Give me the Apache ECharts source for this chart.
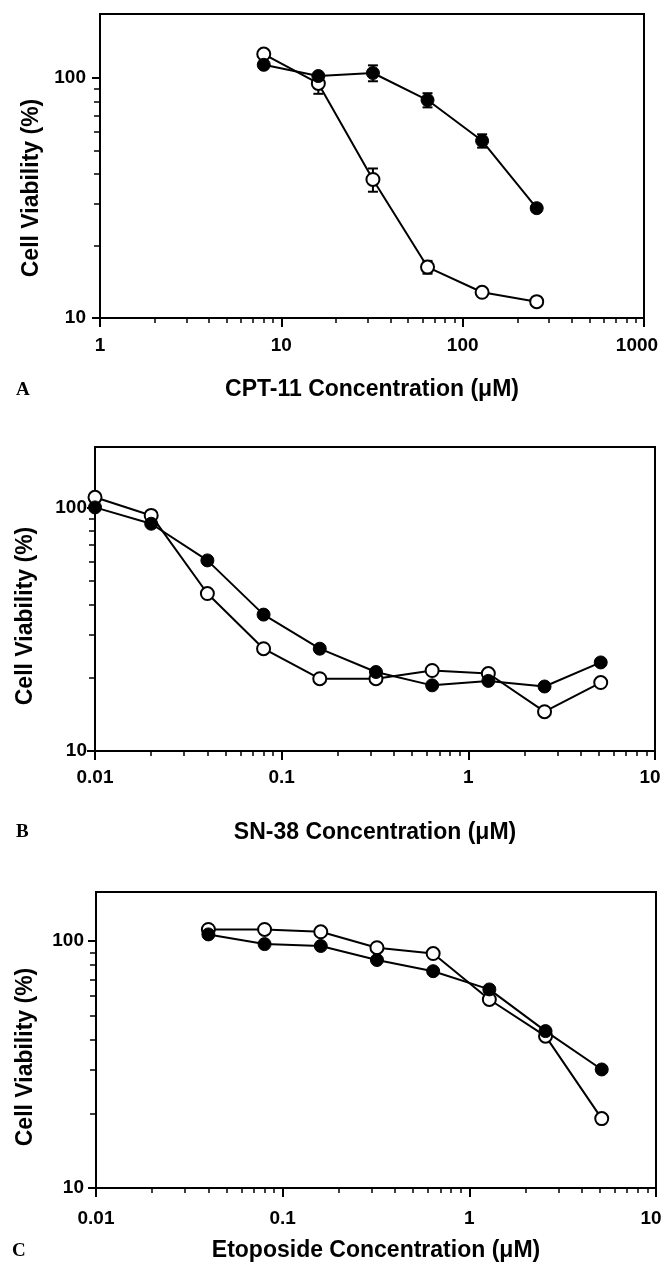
<!DOCTYPE html>
<html>
<head>
<meta charset="utf-8" />
<script src="https://cdn.jsdelivr.net/npm/echarts@6/dist/echarts.min.js"></script>
<style>
  html, body { margin: 0; padding: 0; background: #fff; }
  #chart { width: 663px; height: 1267px; }
</style>
</head>
<body>
<div id="chart"></div>
<script>
// panel A: CPT-11
var cptConc = [8, 16, 32, 64, 128, 256];
var cptOpen = [126, 95, 37.8, 16.3, 12.8, 11.7];
var cptOpenErr = [0, 9, 4.2, 1, 0.4, 0.4];
var cptClosed = [113.6, 102, 105, 81, 54.8, 28.7];
var cptClosedErr = [0, 3, 8, 5.5, 3.5, 1];

// panel B: SN-38
var snConc = [0.01, 0.02, 0.04, 0.08, 0.16, 0.32, 0.64, 1.28, 2.56, 5.12];
var snOpen = [110, 92.7, 44.3, 26.3, 19.8, 19.8, 21.4, 20.8, 14.5, 19.1];
var snClosed = [100, 85.7, 60.6, 36.3, 26.3, 21.1, 18.6, 19.4, 18.4, 23.1];

// panel C: etoposide
var etoConc = [0.04, 0.08, 0.16, 0.32, 0.64, 1.28, 2.56, 5.12];
var etoOpen = [111.4, 111.4, 109, 94, 89, 58, 41.2, 19.1];
var etoClosed = [106.4, 97.2, 95.5, 83.8, 75.5, 63.7, 43.2, 30.2];

// ticks
var cptXTicks = [1, 10, 100, 1000];
var snXTicks = [0.01, 0.1, 1, 10];
var yTicks = [10, 100];
var minorSteps = [2, 3, 4, 5, 6, 7, 8, 9];

function minorTicks(decades, lo, hi) {
    var out = [];
    decades.forEach(function (d) {
        minorSteps.forEach(function (m) {
            var v = +(d * m).toPrecision(6);
            if (v > lo && v < hi) out.push(v);
        });
    });
    return out;
}
function pairs(xs, ys) {
    return xs.map(function (x, i) { return [x, ys[i]]; });
}
function errData(xs, ys, es) {
    return xs.map(function (x, i) { return [x, ys[i] - es[i], ys[i] + es[i]]; });
}

var labelFont = {fontFamily: 'Liberation Sans, Arial, sans-serif', fontWeight: 'bold', fontSize: 19, color: '#000'};
var nameFont = {fontFamily: 'Liberation Sans, Arial, sans-serif', fontWeight: 'bold', fontSize: 23, color: '#000'};

var panels = [
    {top: 14, left: 100, width: 544, height: 304, xMin: 1, xMax: 1000, yMax: 185, xTicks: cptXTicks, lastShift: 14,
     xName: 'CPT-11 Concentration (\u03bcM)', xGap: 60, yGap: 56, yShift: 22, yMargin: 14, xMargin: 18},
    {top: 447, left: 95, width: 560, height: 304, xMin: 0.01, xMax: 10, yMax: 177, xTicks: snXTicks, lastShift: 10,
     xName: 'SN-38 Concentration (\u03bcM)', xGap: 70, yGap: 58, yShift: 17, yMargin: 8, xMargin: 17},
    {top: 892, left: 96, width: 560, height: 296, xMin: 0.01, xMax: 10, yMax: 158, xTicks: snXTicks, lastShift: 10,
     xName: 'Etoposide Concentration (\u03bcM)', xGap: 51, yGap: 59, yShift: 17, yMargin: 12, xMargin: 21}
];

function plainLabel(v) { return String(v); }

var grid = [], xAxis = [], yAxis = [];
panels.forEach(function (p, i) {
    grid.push({left: p.left, top: p.top, width: p.width, height: p.height, outerBoundsMode: 'none',
        show: true, borderColor: '#000', borderWidth: 2, backgroundColor: 'transparent'});
    // main axes: decade ticks + labels
    xAxis.push({type: 'log', gridIndex: i, position: 'bottom', min: p.xMin, max: p.xMax,
        name: p.xName, nameLocation: 'middle', nameGap: p.xGap, nameTextStyle: nameFont,
        axisLine: {lineStyle: {color: '#000', width: 2}},
        axisTick: {customValues: p.xTicks, length: 9, lineStyle: {color: '#000', width: 2}},
        axisLabel: Object.assign({customValues: p.xTicks, margin: p.xMargin,
            // last label sits a little inside the frame, as in the print
            formatter: function (v) { return v === p.xMax ? '{m|' + v + '}' : String(v); },
            rich: {m: Object.assign({padding: [0, p.lastShift, 0, 0]}, labelFont)}}, labelFont),
        splitLine: {show: false}});
    yAxis.push({type: 'log', gridIndex: i, position: 'left', min: 10, max: p.yMax,
        name: 'Cell Viability (%)', nameLocation: 'middle', nameGap: p.yGap,
        nameTextStyle: Object.assign({padding: [0, p.yShift * 2, 0, 0]}, nameFont),
        axisLine: {lineStyle: {color: '#000', width: 2}},
        axisTick: {customValues: yTicks, length: 8, lineStyle: {color: '#000', width: 2}},
        axisLabel: Object.assign({customValues: yTicks, margin: p.yMargin, formatter: plainLabel}, labelFont),
        splitLine: {show: false}});
    // minor ticks at 2..9 of each decade
    xAxis.push({type: 'log', gridIndex: i, position: 'bottom', min: p.xMin, max: p.xMax,
        axisLine: {show: false}, axisLabel: {show: false}, splitLine: {show: false},
        axisTick: {customValues: minorTicks(p.xTicks, p.xMin, p.xMax), length: 5, lineStyle: {color: '#000', width: 1.5}}});
    yAxis.push({type: 'log', gridIndex: i, position: 'left', min: 10, max: p.yMax,
        axisLine: {show: false}, axisLabel: {show: false}, splitLine: {show: false},
        axisTick: {customValues: minorTicks(yTicks, 10, p.yMax), length: 6, lineStyle: {color: '#000', width: 1.5}}});
});

function errRender(params, api) {
    var x = api.value(0);
    var lo = api.coord([x, api.value(1)]);
    var hi = api.coord([x, api.value(2)]);
    var w = 5;
    var st = {stroke: '#000', lineWidth: 2};
    return {type: 'group', children: [
        {type: 'line', shape: {x1: hi[0], y1: hi[1], x2: lo[0], y2: lo[1]}, style: st},
        {type: 'line', shape: {x1: hi[0] - w, y1: hi[1], x2: hi[0] + w, y2: hi[1]}, style: st},
        {type: 'line', shape: {x1: lo[0] - w, y1: lo[1], x2: lo[0] + w, y2: lo[1]}, style: st}
    ]};
}

function openLine(i, data) {
    return {type: 'line', xAxisIndex: i * 2, yAxisIndex: i * 2, data: data,
        symbol: 'circle', symbolSize: 13,
        lineStyle: {color: '#000', width: 2},
        itemStyle: {color: '#fff', borderColor: '#000', borderWidth: 2}};
}
function closedLine(i, data) {
    return {type: 'line', xAxisIndex: i * 2, yAxisIndex: i * 2, data: data,
        symbol: 'circle', symbolSize: 13,
        lineStyle: {color: '#000', width: 2},
        itemStyle: {color: '#000', borderColor: '#000', borderWidth: 1}};
}

var series = [
    {type: 'custom', xAxisIndex: 0, yAxisIndex: 0, renderItem: errRender,
     encode: {x: 0, y: [1, 2]}, data: errData(cptConc, cptOpen, cptOpenErr)},
    {type: 'custom', xAxisIndex: 0, yAxisIndex: 0, renderItem: errRender,
     encode: {x: 0, y: [1, 2]}, data: errData(cptConc, cptClosed, cptClosedErr)},
    openLine(0, pairs(cptConc, cptOpen)),
    closedLine(0, pairs(cptConc, cptClosed)),
    openLine(1, pairs(snConc, snOpen)),
    closedLine(1, pairs(snConc, snClosed)),
    openLine(2, pairs(etoConc, etoOpen)),
    closedLine(2, pairs(etoConc, etoClosed))
];

var letterFont = {fontFamily: 'Liberation Serif, Times New Roman, serif', fontWeight: 'bold', fontSize: 19, color: '#000'};

var chart = echarts.init(document.getElementById('chart'));
chart.setOption({
    animation: false,
    backgroundColor: '#fff',
    title: [
        {text: 'A', left: 16, top: 381, padding: 0, textStyle: letterFont},
        {text: 'B', left: 16, top: 823, padding: 0, textStyle: letterFont},
        {text: 'C', left: 12, top: 1242, padding: 0, textStyle: letterFont}
    ],
    grid: grid,
    xAxis: xAxis,
    yAxis: yAxis,
    series: series
});
</script>
</body>
</html>
